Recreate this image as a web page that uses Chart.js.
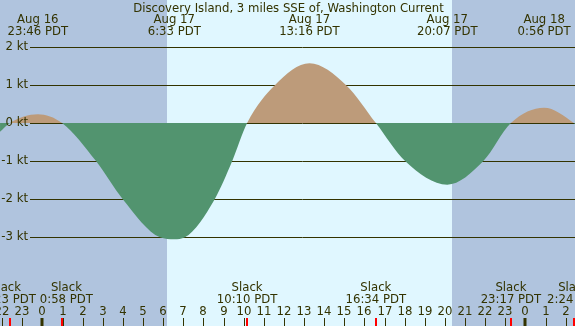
<!DOCTYPE html>
<html>
<head>
<meta charset="utf-8">
<script src="https://cdn.jsdelivr.net/npm/chart.js@4"></script>
<style>
  body { margin: 0; background: #fff; }
  #wrap { width: 575px; height: 326px; position: relative; }
</style>
</head>
<body>
<div id="wrap"><canvas id="chart"></canvas></div>
<script>
// hours from Aug 17 00:00 PDT, current in knots
const hours  = [-2.11, -1.62, -0.23, 0.97, 2.66, 3.99, 5.84, 6.55, 7.08, 8.56, 9.43, 10.17, 11.56, 13.27, 15.08, 16.57, 18.02, 20.12, 21.91, 23.28, 24.93, 26.40, 26.46];
const speeds = [-0.23, 0, 0.23, 0, -1, -2, -3, -3.05, -3, -2, -1, 0, 1, 1.57, 1, 0, -1, -1.62, -1, 0, 0.40, 0, -0.03];

const maxTimes  = [-0.233, 6.55, 13.267, 20.117, 24.933];
const maxDates  = ["Aug 16", "Aug 17", "Aug 17", "Aug 17", "Aug 18"];
const maxLabels = ["23:46 PDT", "6:33 PDT", "13:16 PDT", "20:07 PDT", "0:56 PDT"];

const slackTimes  = [-1.617, 0.967, 10.167, 16.567, 23.283, 26.4];
const slackLabels = ["22:23 PDT", "0:58 PDT", "10:10 PDT", "16:34 PDT", "23:17 PDT", "2:24 PDT"];

const yTicks = [2, 1, 0, -1, -2, -3];
const hourTicks = [-2, -1, 0, 1, 2, 3, 4, 5, 6, 7, 8, 9, 10, 11, 12, 13, 14, 15, 16, 17, 18, 19, 20, 21, 22, 23, 24, 25, 26];
const sunrise = 6.19;
const sunset = 20.35;

const title = "Discovery Island, 3 miles SSE of, Washington Current";
const textColor = "#333300";
const font = "11.7px 'DejaVu Sans'";

const tidePlugin = {
  id: "tide",
  beforeDatasetsDraw(chart) {
    const c = chart.ctx;
    const x = chart.scales.x, y = chart.scales.y;
    const W = chart.width, H = chart.height;
    c.save();
    // night / day background
    c.fillStyle = "#B0C4DE";
    c.fillRect(0, 0, W, H);
    const x1 = Math.round(x.getPixelForValue(sunrise));
    const x2 = Math.round(x.getPixelForValue(sunset));
    c.fillStyle = "#E0F7FF";
    c.fillRect(x1, 0, x2 - x1, H);
    // grid lines
    c.strokeStyle = "#333300";
    c.lineWidth = 1;
    yTicks.forEach(v => {
      const py = Math.round(y.getPixelForValue(v)) + 0.5;
      c.beginPath();
      c.moveTo(30, py);
      c.lineTo(W, py);
      c.stroke();
    });
    c.restore();
  },
  afterDatasetsDraw(chart) {
    const c = chart.ctx;
    const x = chart.scales.x, y = chart.scales.y;
    const W = chart.width, H = chart.height;
    c.save();
    c.font = font;
    c.fillStyle = textColor;
    // y labels
    c.textAlign = "right";
    c.textBaseline = "middle";
    yTicks.forEach(v => {
      c.fillText(v + " kt", 28, y.getPixelForValue(v));
    });
    // title
    c.textAlign = "center";
    c.textBaseline = "alphabetic";
    c.fillText(title, W / 2 + 1, 12);
    // max current labels
    maxTimes.forEach((t, i) => {
      const px = x.getPixelForValue(t);
      c.fillText(maxDates[i], px, 23);
      c.fillText(maxLabels[i], px, 35);
    });
    // slack labels, pushed apart if overlapping
    const pos = slackTimes.map(t => x.getPixelForValue(t));
    const wid = slackLabels.map(s => c.measureText(s).width);
    for (let i = 1; i < pos.length; i++) {
      const over = (pos[i - 1] + wid[i - 1] / 2 + 4) - (pos[i] - wid[i] / 2);
      if (over > 0) { pos[i - 1] -= over / 2; pos[i] += over / 2; }
    }
    slackLabels.forEach((s, i) => {
      c.fillText("Slack", pos[i], 291);
      c.fillText(s, pos[i], 303);
    });
    // hour ticks and labels
    hourTicks.forEach(h => {
      const px = Math.round(x.getPixelForValue(h));
      const hh = ((h % 24) + 24) % 24;
      c.fillText(String(hh), px, 315);
      c.fillStyle = "#333300";
      if (hh === 0) c.fillRect(px - 1.5, 318, 3, 8);
      else c.fillRect(px, 318, 1, 8);
      c.fillStyle = textColor;
    });
    c.fillStyle = "#FF0000";
    slackTimes.forEach(t => {
      const px = Math.round(x.getPixelForValue(t));
      c.fillRect(px - 1, 318, 2, 8);
    });
    c.restore();
  }
};

new Chart(document.getElementById("chart"), {
  type: "line",
  data: {
    datasets: [{
      data: hours.map((h, i) => ({ x: h, y: speeds[i] })),
      borderWidth: 0,
      borderColor: "rgba(0,0,0,0)",
      pointRadius: 0,
      cubicInterpolationMode: "monotone",
      fill: { target: "origin", above: "#BD9B7A", below: "#52946F" }
    }]
  },
  options: {
    responsive: true,
    maintainAspectRatio: false,
    animation: false,
    layout: { padding: 0 },
    plugins: { legend: { display: false }, tooltip: { enabled: false } },
    scales: {
      x: { type: "linear", min: -2.112, max: 26.466, display: false },
      y: { min: -5.328, max: 3.228, display: false }
    }
  },
  plugins: [tidePlugin]
});
</script>
</body>
</html>
